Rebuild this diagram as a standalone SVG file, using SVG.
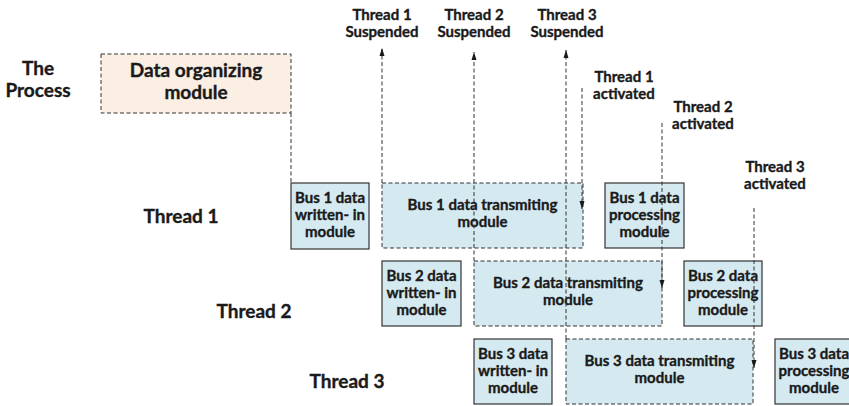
<svg xmlns="http://www.w3.org/2000/svg" width="849" height="406" viewBox="0 0 849 406">
  <style>
    text { font-family: Lato, "Liberation Sans", sans-serif; font-weight: bold; fill: #1a1a1a; stroke: #1a1a1a; stroke-width: 0.35; text-anchor: middle; }
    .big { font-size: 19px; }
    .mid { font-size: 15px; }
    .box { font-size: 15px; }
    .solid { fill: #d5e9f0; stroke: #333; stroke-width: 1.2; }
    .dash { fill: #d5e9f0; stroke: #333; stroke-width: 1; stroke-dasharray: 4 2.5; }
    .org { fill: #fbeee3; stroke: #333; stroke-width: 1; stroke-dasharray: 4 2.5; }
    .conn line { stroke: #333; stroke-width: 1; stroke-dasharray: 4 2.5; fill: none; }
  </style>
  <defs>
    <marker id="arrow" markerUnits="userSpaceOnUse" markerWidth="8" markerHeight="8" viewBox="0 0 8 6" refX="8" refY="3" orient="auto">
      <path d="M0,0.5 L8,3 L0,5.5 z" fill="#1a1a1a"/>
    </marker>
  </defs>

  <rect width="849" height="406" fill="#ffffff"/>

  <!-- row and process labels -->
  <g id="label-process">
    <text class="big" x="38" y="75">The</text>
    <text class="big" x="38" y="97">Process</text>
  </g>
  <g id="label-thread1"><text class="big" x="181" y="223">Thread 1</text></g>
  <g id="label-thread2"><text class="big" x="254" y="318">Thread 2</text></g>
  <g id="label-thread3"><text class="big" x="347" y="388">Thread 3</text></g>

  <!-- event labels -->
  <g id="label-t1-suspended">
    <text class="mid" x="382" y="20">Thread 1</text>
    <text class="mid" x="382" y="37">Suspended</text>
  </g>
  <g id="label-t2-suspended">
    <text class="mid" x="474" y="20">Thread 2</text>
    <text class="mid" x="474" y="37">Suspended</text>
  </g>
  <g id="label-t3-suspended">
    <text class="mid" x="567" y="20">Thread 3</text>
    <text class="mid" x="567" y="37">Suspended</text>
  </g>
  <g id="label-t1-activated">
    <text class="mid" x="624" y="82">Thread 1</text>
    <text class="mid" x="624" y="99">activated</text>
  </g>
  <g id="label-t2-activated">
    <text class="mid" x="703" y="112">Thread 2</text>
    <text class="mid" x="703" y="129">activated</text>
  </g>
  <g id="label-t3-activated">
    <text class="mid" x="775" y="172">Thread 3</text>
    <text class="mid" x="775" y="189">activated</text>
  </g>

  <!-- data organizing -->
  <g id="data-organizing">
    <rect class="org" x="101" y="54" width="190" height="59"/>
    <text class="big" x="196" y="77">Data organizing</text>
    <text class="big" x="196" y="99">module</text>
  </g>

  <!-- thread 1 -->
  <g id="bus1-written">
    <rect class="solid" x="291" y="183" width="78" height="66"/>
    <text class="box" x="330" y="203">Bus 1 data</text>
    <text class="box" x="330" y="220">written- in</text>
    <text class="box" x="330" y="237">module</text>
  </g>
  <g id="bus1-transmitting">
    <rect class="dash" x="382" y="183" width="201" height="65"/>
    <text class="box" x="482.5" y="210">Bus 1 data transmiting</text>
    <text class="box" x="482.5" y="227">module</text>
  </g>
  <g id="bus1-processing">
    <rect class="solid" x="605" y="183" width="79" height="65"/>
    <text class="box" x="644.5" y="203">Bus 1 data</text>
    <text class="box" x="644.5" y="220">processing</text>
    <text class="box" x="644.5" y="237">module</text>
  </g>

  <!-- thread 2 -->
  <g id="bus2-written">
    <rect class="solid" x="382" y="261" width="79" height="65"/>
    <text class="box" x="421.5" y="281">Bus 2 data</text>
    <text class="box" x="421.5" y="298">written- in</text>
    <text class="box" x="421.5" y="315">module</text>
  </g>
  <g id="bus2-transmitting">
    <rect class="dash" x="474" y="261" width="188" height="65"/>
    <text class="box" x="568" y="288">Bus 2 data transmiting</text>
    <text class="box" x="568" y="305">module</text>
  </g>
  <g id="bus2-processing">
    <rect class="solid" x="684" y="261" width="78" height="65"/>
    <text class="box" x="723" y="281">Bus 2 data</text>
    <text class="box" x="723" y="298">processing</text>
    <text class="box" x="723" y="315">module</text>
  </g>

  <!-- thread 3 -->
  <g id="bus3-written">
    <rect class="solid" x="474" y="339" width="78" height="65"/>
    <text class="box" x="513" y="359">Bus 3 data</text>
    <text class="box" x="513" y="376">written- in</text>
    <text class="box" x="513" y="393">module</text>
  </g>
  <g id="bus3-transmitting">
    <rect class="dash" x="566" y="339" width="187" height="65"/>
    <text class="box" x="659.5" y="366">Bus 3 data transmiting</text>
    <text class="box" x="659.5" y="383">module</text>
  </g>
  <g id="bus3-processing">
    <rect class="solid" x="775" y="339" width="80" height="65"/>
    <text class="box" x="814" y="359">Bus 3 data</text>
    <text class="box" x="814" y="376">processing</text>
    <text class="box" x="814" y="393">module</text>
  </g>

  <!-- connectors -->
  <g id="connectors" class="conn">
    <line x1="291" y1="113" x2="291" y2="183"/>
    <line x1="382" y1="183" x2="382" y2="48" marker-end="url(#arrow)"/>
    <line x1="474" y1="261" x2="474" y2="52" marker-end="url(#arrow)"/>
    <line x1="566" y1="339" x2="566" y2="50" marker-end="url(#arrow)"/>
    <line x1="582" y1="88" x2="582" y2="209" marker-end="url(#arrow)"/>
    <line x1="662" y1="123" x2="662" y2="288" marker-end="url(#arrow)"/>
    <line x1="754" y1="208" x2="754" y2="368" marker-end="url(#arrow)"/>
  </g>
</svg>
